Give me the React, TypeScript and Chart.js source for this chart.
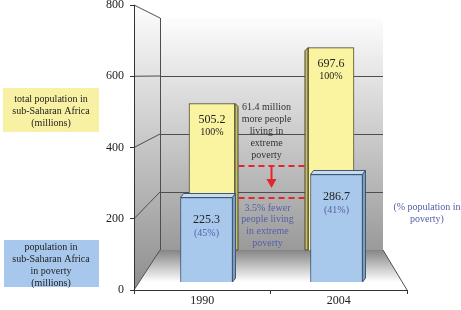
import React, { useEffect, useRef } from 'react';
import { Chart, registerables } from 'chart.js';

Chart.register(...registerables);

const categories = ['1990', '2004'];
const totalPopulation = [505.2, 697.6];
const totalShareLabels = ['100%', '100%'];
const povertyPopulation = [225.3, 286.7];
const povertyShareLabels = ['(45%)', '(41%)'];
const yTicks = [0, 200, 400, 600, 800];
const totalLegend = ['total population in', 'sub-Saharan Africa', '(millions)'];
const povertyLegend = ['population in', 'sub-Saharan Africa', 'in poverty', '(millions)'];
const shareLegend = ['(% population in', 'poverty)'];
const increaseNote = ['61.4 million', 'more people', 'living in', 'extreme', 'poverty'];
const decreaseNote = ['3.5% fewer', 'people living', 'in extreme', 'poverty'];

const FONT = '"Liberation Serif", "Times New Roman", serif';
const YELLOW = '#faf3a0';
const YELLOW_BORDER = '#4a4830';
const YELLOW_SIDE = '#c8bf6a';
const BLUE = '#a9c9ec';
const BLUE_BORDER = '#3f5873';
const BLUE_TOP = '#c6dcf3';
const BLUE_SIDE = '#7d9cc0';
const NOTE_BLUE = '#5560a8';
const RED = '#e3262b';

function line(ctx: CanvasRenderingContext2D, x1: number, y1: number, x2: number, y2: number) {
  ctx.beginPath();
  ctx.moveTo(x1, y1);
  ctx.lineTo(x2, y2);
  ctx.stroke();
}

function poly(ctx: CanvasRenderingContext2D, pts: number[][], fill: any, stroke?: string) {
  ctx.beginPath();
  ctx.moveTo(pts[0][0], pts[0][1]);
  for (let i = 1; i < pts.length; i++) ctx.lineTo(pts[i][0], pts[i][1]);
  ctx.closePath();
  ctx.fillStyle = fill;
  ctx.fill();
  if (stroke) {
    ctx.strokeStyle = stroke;
    ctx.lineWidth = 1;
    ctx.stroke();
  }
}

function textLines(ctx: CanvasRenderingContext2D, lines: string[], x: number, y0: number, dy: number) {
  lines.forEach((t, i) => ctx.fillText(t, x, y0 + i * dy));
}

const frame3d = {
  id: 'frame3d',
  beforeDraw(chart: any) {
    const { ctx, chartArea } = chart;
    const { left, right } = chartArea;
    const y = chart.scales.y;
    const yb = chart.scales.yBack;
    const bl = left + 26;
    const br = right - 24;
    const topV = yTicks[yTicks.length - 1];
    const fy = (v: number) => y.getPixelForValue(v);
    const by = (v: number) => yb.getPixelForValue(v);
    ctx.save();
    // back wall
    let g = ctx.createLinearGradient(0, by(topV), 0, by(0));
    g.addColorStop(0, '#fdfdfd');
    g.addColorStop(1, '#9a9a9a');
    ctx.fillStyle = g;
    ctx.fillRect(bl, by(topV), br - bl, by(0) - by(topV));
    // side wall
    g = ctx.createLinearGradient(0, fy(topV), 0, fy(0));
    g.addColorStop(0, '#fdfdfd');
    g.addColorStop(1, '#8e8e8e');
    poly(ctx, [[left, fy(topV)], [bl, by(topV)], [bl, by(0)], [left, fy(0)]], g);
    // floor
    g = ctx.createLinearGradient(0, by(0), 0, fy(0));
    g.addColorStop(0, '#858585');
    g.addColorStop(0.8, '#ffffff');
    g.addColorStop(1, '#ffffff');
    poly(ctx, [[left, fy(0)], [bl, by(0)], [br, by(0)], [right, fy(0)]], g);
    // frame lines
    ctx.strokeStyle = '#4e4e4e';
    ctx.lineWidth = 1;
    yTicks.forEach((t) => {
      line(ctx, left, fy(t), bl, by(t));
      if (t > 0 && t < topV) line(ctx, bl, Math.round(by(t)) + 0.5, br, Math.round(by(t)) + 0.5);
    });
    line(ctx, bl + 0.5, by(topV), bl + 0.5, by(0));
    line(ctx, br, by(0), right, fy(0));
    ctx.restore();
  },
  afterDatasetDraw(chart: any, args: any) {
    const { ctx, chartArea } = chart;
    const mid = (chartArea.left + chartArea.right) / 2;
    const meta = args.meta;
    ctx.save();
    if (meta.yAxisID === 'yBack') {
      meta.data.forEach((bar: any) => {
        const half = bar.width / 2;
        const t = bar.y;
        const b = bar.base;
        if (bar.x < mid) {
          const r = bar.x + half;
          poly(ctx, [[r, t], [r + 3, t + 3], [r + 3, b], [r, b]], YELLOW_SIDE, YELLOW_BORDER);
        } else {
          const l = bar.x - half;
          poly(ctx, [[l, t], [l - 3, t + 3], [l - 3, b], [l, b]], YELLOW_SIDE, YELLOW_BORDER);
        }
      });
    } else if (meta.yAxisID === 'yFront') {
      meta.data.forEach((bar: any) => {
        const half = bar.width / 2;
        const l = bar.x - half;
        const r = bar.x + half;
        const t = bar.y;
        const b = bar.base;
        poly(ctx, [[l, t], [l + 3, t - 4], [r + 3, t - 4], [r, t]], BLUE_TOP, BLUE_BORDER);
        poly(ctx, [[r, t], [r + 3, t - 4], [r + 3, b - 4], [r, b]], BLUE_SIDE, BLUE_BORDER);
      });
    }
    ctx.restore();
  },
  afterDraw(chart: any) {
    const { ctx, chartArea } = chart;
    const { right } = chartArea;
    const midX = chart.scales.x.getPixelForValue(0.5) - 4;
    ctx.save();
    ctx.textAlign = 'center';
    ctx.textBaseline = 'middle';

    // value labels
    const back = chart.getDatasetMeta(0);
    const front = chart.getDatasetMeta(1);
    back.data.forEach((bar: any, i: number) => {
      ctx.fillStyle = '#222';
      ctx.font = `12px ${FONT}`;
      ctx.fillText(totalPopulation[i].toFixed(1), bar.x, bar.y + 16);
      ctx.font = `10px ${FONT}`;
      ctx.fillText(totalShareLabels[i], bar.x, bar.y + 29);
    });
    front.data.forEach((bar: any, i: number) => {
      ctx.fillStyle = '#222';
      ctx.font = `12px ${FONT}`;
      ctx.fillText(povertyPopulation[i].toFixed(1), bar.x, bar.y + 22);
      ctx.fillStyle = NOTE_BLUE;
      ctx.font = `10px ${FONT}`;
      ctx.fillText(povertyShareLabels[i], bar.x, bar.y + 36);
    });

    // notes between bars
    ctx.font = `10px ${FONT}`;
    ctx.fillStyle = '#333';
    textLines(ctx, increaseNote, midX, 107, 12.2);
    ctx.fillStyle = NOTE_BLUE;
    textLines(ctx, decreaseNote, midX + 1, 208, 11.8);

    // red dashed lines and arrow
    ctx.strokeStyle = RED;
    ctx.lineWidth = 2;
    ctx.setLineDash([6, 4]);
    line(ctx, midX - 28, 166, midX + 39, 166);
    line(ctx, midX - 28, 198, midX + 39, 198);
    ctx.setLineDash([]);
    const ax = midX + 5;
    line(ctx, ax, 167, ax, 180);
    poly(ctx, [[ax - 5, 179], [ax + 5, 179], [ax, 188]], RED);

    // legend boxes on the left
    ctx.fillStyle = '#f8f0a2';
    ctx.fillRect(3, 88, 96, 44);
    ctx.fillStyle = '#222';
    textLines(ctx, totalLegend, 51, 99, 12);
    ctx.fillStyle = '#a7c8ec';
    ctx.fillRect(4, 240, 95, 47);
    ctx.fillStyle = '#222';
    textLines(ctx, povertyLegend, 51, 247, 12);

    // right note
    ctx.fillStyle = NOTE_BLUE;
    textLines(ctx, shareLegend, right + 20, 207, 12);
    ctx.restore();
  },
};

export default function App() {
  const ref = useRef<HTMLCanvasElement>(null);
  useEffect(() => {
    if (!ref.current) return;
    const chart = new Chart(ref.current, {
      type: 'bar',
      data: {
        labels: categories,
        datasets: [
          {
            label: 'total population in sub-Saharan Africa (millions)',
            data: totalPopulation.map((v, i) => ({ x: i, y: v })),
            xAxisID: 'xBack',
            yAxisID: 'yBack',
            backgroundColor: YELLOW,
            borderColor: YELLOW_BORDER,
            borderWidth: 1,
            barThickness: 46,
            grouped: false,
            order: 2,
          } as any,
          {
            label: 'population in sub-Saharan Africa in poverty (millions)',
            data: povertyPopulation.map((v, i) => ({ x: i, y: v })),
            xAxisID: 'xFront',
            yAxisID: 'yFront',
            backgroundColor: BLUE,
            borderColor: BLUE_BORDER,
            borderWidth: 1,
            barThickness: 52,
            grouped: false,
            order: 1,
          } as any,
        ],
      },
      options: {
        animation: false,
        responsive: false,
        devicePixelRatio: 1,
        layout: { padding: { left: 0, right: 54, top: 5, bottom: 0 } },
        plugins: { legend: { display: false }, tooltip: { enabled: false } },
        scales: {
          x: {
            type: 'category',
            labels: categories,
            offset: true,
            grid: { offset: true, drawOnChartArea: false, tickLength: 4, color: '#333' },
            border: { display: true, color: '#333' },
            ticks: { font: { family: FONT, size: 12 }, color: '#222', padding: 0 },
            afterFit: (s: any) => {
              s.height = 20;
              s.paddingLeft = 0;
              s.paddingRight = 0;
            },
          },
          xBack: { type: 'linear', display: false, offset: false, grid: { offset: false }, min: -0.6555, max: 1.6387 },
          xFront: { type: 'linear', display: false, offset: false, grid: { offset: false }, min: -0.5577, max: 1.5423 },
          y: {
            type: 'linear',
            position: 'left',
            min: 0,
            max: 800,
            afterBuildTicks: (s: any) => {
              s.ticks = yTicks.map((v) => ({ value: v }));
            },
            grid: { drawOnChartArea: false, tickLength: 4, color: '#333' },
            border: { display: true, color: '#333' },
            ticks: { font: { family: FONT, size: 12 }, color: '#222', padding: 6 },
            afterFit: (s: any) => {
              s.width = 134;
              s.paddingTop = 0;
              s.paddingBottom = 0;
            },
          },
          yBack: { type: 'linear', display: false, position: 'left', min: -137.93, max: 844.83 },
          yFront: { type: 'linear', display: false, position: 'left', min: -21.33, max: 738.67 },
        },
      } as any,
      plugins: [frame3d],
    });
    return () => chart.destroy();
  }, []);
  return (
    <div style={{ position: 'absolute', left: 0, top: 0, width: 461, height: 310, background: '#fff' }}>
      <canvas ref={ref} width={461} height={310} style={{ display: 'block' }} />
    </div>
  );
}
